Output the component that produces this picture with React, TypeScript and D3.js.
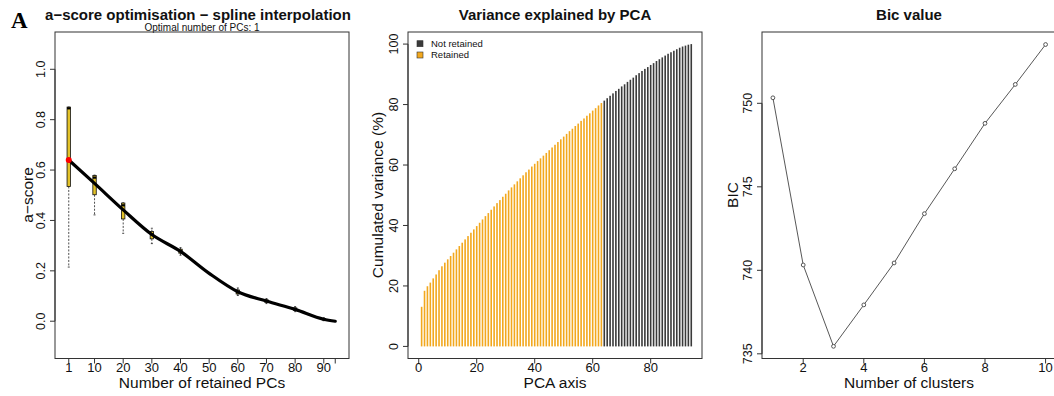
import React from "react";
import * as d3 from "d3";

// ---------- Panel A: a-score optimisation ----------
const aTitle = "a\u2212score optimisation \u2212 spline interpolation";
const aSubtitle = "Optimal number of PCs: 1";
const aXTicks = [1, 10, 20, 30, 40, 50, 60, 70, 80, 90];
const aXExtraTick = 94;
const aYTicks = [0, 0.2, 0.4, 0.6, 0.8, 1.0];
// boxplot stats: pc, low whisker, q1, median, q3, high whisker
const boxPCs = [1, 10, 20, 30, 40, 60, 70, 80, 90];
const boxLow = [0.215, 0.422, 0.349, 0.308, 0.262, 0.102, 0.07, 0.038, 0.002];
const boxQ1 = [0.535, 0.502, 0.406, 0.327, 0.27, 0.108, 0.075, 0.043, 0.005];
const boxMed = [0.845, 0.57, 0.46, 0.345, 0.279, 0.115, 0.08, 0.048, 0.008];
const boxQ3 = [0.85, 0.578, 0.469, 0.356, 0.286, 0.124, 0.085, 0.053, 0.011];
const boxHigh = [0.85, 0.58, 0.47, 0.369, 0.292, 0.132, 0.09, 0.058, 0.014];
// spline knots
const splinePCs = [1, 10, 20, 30, 40, 50, 60, 70, 80, 90, 94];
const splineVals = [0.64, 0.547, 0.442, 0.344, 0.277, 0.19, 0.117, 0.08, 0.047, 0.008, 0.0];
const optimalPC = 1;
const optimalVal = 0.64;

// ---------- Panel B: variance explained ----------
const pcaTitle = "Variance explained by PCA";
const cumVariance = [
  13.1, 18.4, 19.9, 21.1, 22.5, 23.8, 25.2, 26.5, 27.7, 28.8,
  29.9, 31.0, 32.1, 33.2, 34.3, 35.4, 36.5, 37.6, 38.7, 39.8,
  40.9, 42.0, 43.1, 44.1, 45.2, 46.3, 47.4, 48.4, 49.5, 50.5,
  51.6, 52.6, 53.6, 54.6, 55.6, 56.6, 57.6, 58.5, 59.5, 60.4,
  61.3, 62.2, 63.1, 64.0, 64.9, 65.8, 66.7, 67.6, 68.5, 69.4,
  70.3, 71.2, 72.0, 72.9, 73.7, 74.6, 75.4, 76.3, 77.1, 78.0,
  78.8, 79.7, 80.5, 81.3, 82.1, 82.9, 83.7, 84.5, 85.2, 86.0,
  86.7, 87.5, 88.2, 88.9, 89.7, 90.4, 91.1, 91.8, 92.4, 93.1,
  93.7, 94.4, 95.0, 95.6, 96.2, 96.8, 97.3, 97.8, 98.3, 98.8,
  99.2, 99.5, 99.8, 100.0,
];
const nRetained = 63;
const pcaXTicks = [0, 20, 40, 60, 80];
const pcaYTicks = [0, 20, 40, 60, 80, 100];
const legendLabels = ["Not retained", "Retained"];

// ---------- Panel C: BIC ----------
const bicTitle = "Bic value";
const clusters = [1, 2, 3, 4, 5, 6, 7, 8, 9, 10];
const bicValues = [750.33, 740.32, 735.45, 737.93, 740.44, 743.39, 746.08, 748.8, 751.13, 753.52];
const bicXTicks = [2, 4, 6, 8, 10];
const bicYTicks = [735, 740, 745, 750];

const FONT = "'Liberation Sans', Arial, Helvetica, sans-serif";
const ORANGE = "#F2A81E";
const DARK = "#3a3a3a";
const GOLD = "#E3C228";
const AXIS = "#333";

const TOP = 32;
const BOTTOM = 358.5;

function YTicks({ scale, ticks, x, fmt }: any) {
  return (
    <g>
      {ticks.map((t: number) => (
        <g key={t}>
          <line x1={x} x2={x - 5} y1={scale(t)} y2={scale(t)} stroke={AXIS} strokeWidth={1} />
          <text
            transform={`translate(${x - 14},${scale(t)}) rotate(-90)`}
            textAnchor="middle"
            dy="0.35em"
            fontSize={12.5}
            fontFamily={FONT}
            fill="#111"
          >
            {fmt(t)}
          </text>
        </g>
      ))}
      <line x1={x} x2={x} y1={scale(ticks[0])} y2={scale(ticks[ticks.length - 1])} stroke={AXIS} />
    </g>
  );
}

function XTicks({ scale, ticks, y, labels = true }: any) {
  return (
    <g>
      {ticks.map((t: number) => (
        <g key={t}>
          <line x1={scale(t)} x2={scale(t)} y1={y} y2={y + 5} stroke={AXIS} strokeWidth={1} />
          {labels && (
            <text x={scale(t)} y={372} textAnchor="middle" fontSize={13} fontFamily={FONT} fill="#111">
              {t}
            </text>
          )}
        </g>
      ))}
    </g>
  );
}

export default function App() {
  // Panel A scales
  const ax = d3.scaleLinear().domain([-3.8, 98.8]).range([55, 349]);
  const ay = d3.scaleLinear().domain([-0.148, 1.148]).range([BOTTOM, TOP]);
  const splineLine = d3
    .line<number>()
    .x((_, i) => ax(splinePCs[i]))
    .y((v) => ay(v))
    .curve(d3.curveMonotoneX);

  // Panel B scales
  const bx = d3.scaleLinear().domain([-3.7, 97.7]).range([408, 702]);
  const by = d3.scaleLinear().domain([-4, 104]).range([BOTTOM, TOP]);

  // Panel C scales
  const cx = d3.scaleLinear().domain([0.64, 10.36]).range([762, 1056.5]);
  const cy = d3.scaleLinear().domain([734.72, 754.27]).range([BOTTOM, TOP]);
  const bicLine = d3
    .line<number>()
    .x((_, i) => cx(clusters[i]))
    .y((v) => cy(v));

  const boxW = 3.4;

  return (
    <svg width={1054} height={396} style={{ display: "block", position: "absolute", left: 0, top: 0 }}>
      <rect x={0} y={0} width={1054} height={396} fill="#fff" />

      {/* ===== Panel A ===== */}
      <text x={11} y={28} fontSize={23} fontWeight="bold" fontFamily="'Liberation Serif', 'Times New Roman', serif" fill="#000">
        A
      </text>
      <text x={198} y={19.5} textAnchor="middle" fontSize={15} fontWeight="bold" fontFamily={FONT} fill="#111">
        {aTitle}
      </text>
      <text x={202} y={30.5} textAnchor="middle" fontSize={10} fontFamily={FONT} fill="#111">
        {aSubtitle}
      </text>
      <rect x={55} y={TOP} width={294} height={BOTTOM - TOP} fill="none" stroke={AXIS} strokeWidth={1} />
      <YTicks scale={ay} ticks={aYTicks} x={55} fmt={(t: number) => t.toFixed(1)} />
      <XTicks scale={ax} ticks={aXTicks} y={BOTTOM} />
      <XTicks scale={ax} ticks={[aXExtraTick]} y={BOTTOM} labels={false} />
      <text x={202} y={388} textAnchor="middle" fontSize={15.5} fontFamily={FONT} fill="#111">
        Number of retained PCs
      </text>
      <text transform={`translate(27.5,195) rotate(-90)`} textAnchor="middle" dy="0.35em" fontSize={15.5} fontFamily={FONT} fill="#111">
        a{"\u2212"}score
      </text>
      {/* boxplots */}
      {boxPCs.map((pc, i) => {
        const x = ax(pc);
        return (
          <g key={pc}>
            <line x1={x} x2={x} y1={ay(boxQ1[i])} y2={ay(boxLow[i])} stroke="#222" strokeWidth={0.8} strokeDasharray="2,1.5" />
            <line x1={x} x2={x} y1={ay(boxQ3[i])} y2={ay(boxHigh[i])} stroke="#222" strokeWidth={0.8} strokeDasharray="2,1.5" />
            <line x1={x - 1} x2={x + 1} y1={ay(boxLow[i])} y2={ay(boxLow[i])} stroke="#222" strokeWidth={0.8} />
            <line x1={x - 1} x2={x + 1} y1={ay(boxHigh[i])} y2={ay(boxHigh[i])} stroke="#222" strokeWidth={0.8} />
            <rect
              x={x - boxW / 2}
              y={ay(boxQ3[i])}
              width={boxW}
              height={Math.max(ay(boxQ1[i]) - ay(boxQ3[i]), 1)}
              fill={GOLD}
              stroke="#111"
              strokeWidth={0.8}
            />
            <line x1={x - boxW / 2} x2={x + boxW / 2} y1={ay(boxMed[i])} y2={ay(boxMed[i])} stroke="#000" strokeWidth={2.2} />
          </g>
        );
      })}
      <path d={splineLine(splineVals) || ""} fill="none" stroke="#000" strokeWidth={3.2} strokeLinejoin="round" strokeLinecap="round" />
      <circle cx={ax(optimalPC)} cy={ay(optimalVal)} r={3} fill="#f00" />

      {/* ===== Panel B ===== */}
      <text x={555} y={20} textAnchor="middle" fontSize={15} fontWeight="bold" fontFamily={FONT} fill="#111">
        {pcaTitle}
      </text>
      {cumVariance.map((v, i) => {
        const pc = i + 1;
        return (
          <rect
            key={pc}
            x={bx(pc) - 0.8}
            y={by(v)}
            width={1.6}
            height={by(0) - by(v)}
            fill={pc <= nRetained ? ORANGE : DARK}
          />
        );
      })}
      <rect x={408} y={TOP} width={294} height={BOTTOM - TOP} fill="none" stroke={AXIS} strokeWidth={1} />
      <YTicks scale={by} ticks={pcaYTicks} x={408} fmt={(t: number) => String(t)} />
      <XTicks scale={bx} ticks={pcaXTicks} y={BOTTOM} />
      <text x={555} y={388} textAnchor="middle" fontSize={15.5} fontFamily={FONT} fill="#111">
        PCA axis
      </text>
      <text transform={`translate(378,195) rotate(-90)`} textAnchor="middle" dy="0.35em" fontSize={15.5} fontFamily={FONT} fill="#111">
        Cumulated variance (%)
      </text>
      {/* legend */}
      {legendLabels.map((lab, i) => (
        <g key={lab}>
          <rect x={417} y={40.7 + i * 11.3} width={6} height={6} fill={i === 0 ? DARK : ORANGE} stroke="#333" strokeWidth={0.6} />
          <text x={431} y={47 + i * 11.3} fontSize={9.5} fontFamily={FONT} fill="#111">
            {lab}
          </text>
        </g>
      ))}

      {/* ===== Panel C ===== */}
      <text x={909} y={20} textAnchor="middle" fontSize={15} fontWeight="bold" fontFamily={FONT} fill="#111">
        {bicTitle}
      </text>
      <rect x={762} y={TOP} width={300} height={BOTTOM - TOP} fill="none" stroke={AXIS} strokeWidth={1} />
      <YTicks scale={cy} ticks={bicYTicks} x={762} fmt={(t: number) => String(t)} />
      <XTicks scale={cx} ticks={bicXTicks} y={BOTTOM} />
      <text x={909} y={388} textAnchor="middle" fontSize={15.5} fontFamily={FONT} fill="#111">
        Number of clusters
      </text>
      <text transform={`translate(732.5,195) rotate(-90)`} textAnchor="middle" dy="0.35em" fontSize={15.5} fontFamily={FONT} fill="#111">
        BIC
      </text>
      <path d={bicLine(bicValues) || ""} fill="none" stroke="#444" strokeWidth={0.9} />
      {bicValues.map((v, i) => (
        <circle key={i} cx={cx(clusters[i])} cy={cy(v)} r={1.9} fill="#fff" stroke="#444" strokeWidth={0.9} />
      ))}
    </svg>
  );
}
